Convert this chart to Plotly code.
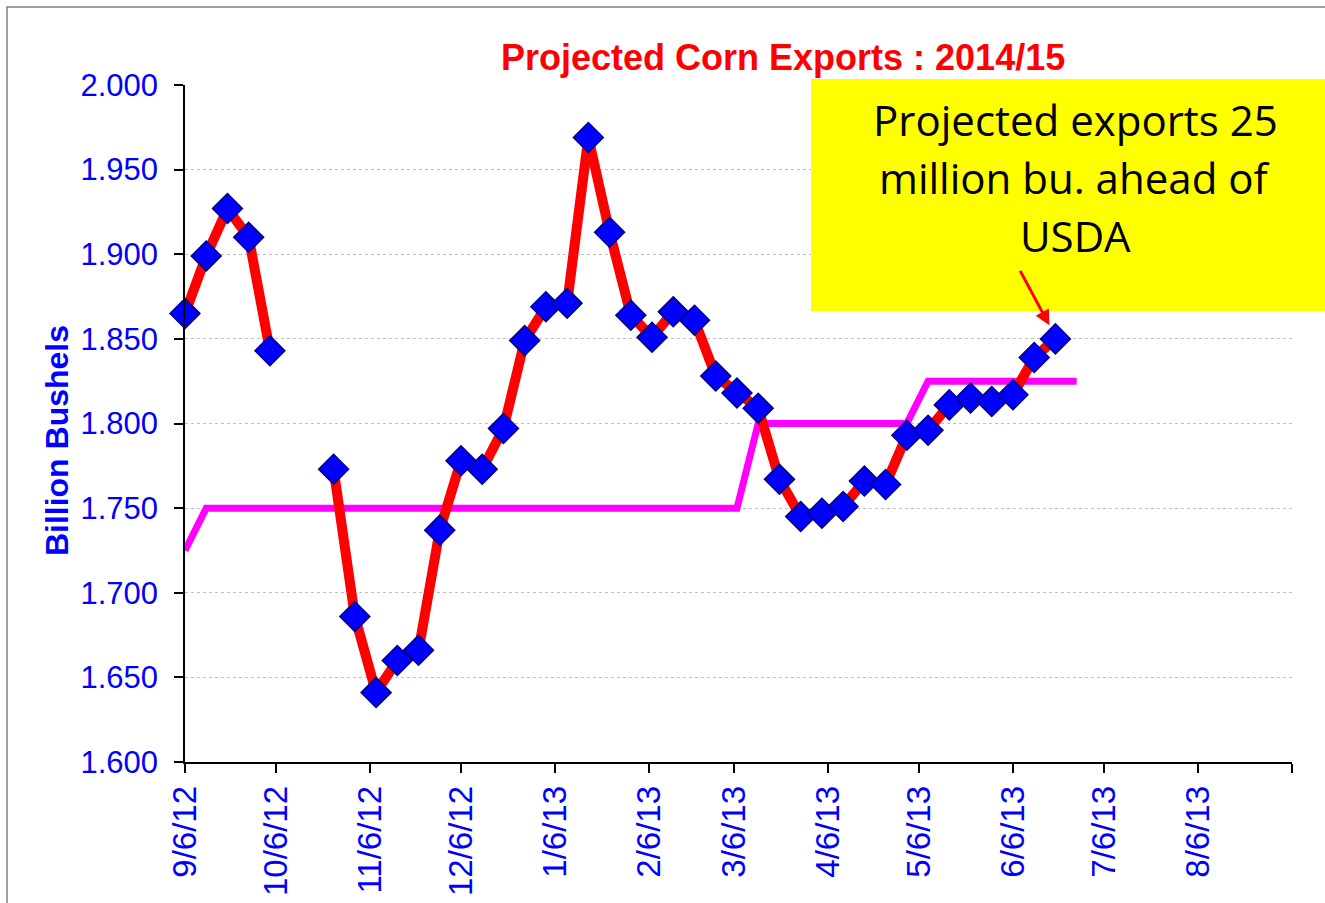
import plotly.graph_objects as go

# weekly projected exports (billion bushels); None = no estimate that week
week_dates = [
    "2012-09-06", "2012-09-13", "2012-09-20", "2012-09-27", "2012-10-04",
    "2012-10-11", "2012-10-18", "2012-10-25", "2012-11-01", "2012-11-08",
    "2012-11-15", "2012-11-22", "2012-11-29", "2012-12-06", "2012-12-13",
    "2012-12-20", "2012-12-27", "2013-01-03", "2013-01-10", "2013-01-17",
    "2013-01-24", "2013-01-31", "2013-02-07", "2013-02-14", "2013-02-21",
    "2013-02-28", "2013-03-07", "2013-03-14", "2013-03-21", "2013-03-28",
    "2013-04-04", "2013-04-11", "2013-04-18", "2013-04-25", "2013-05-02",
    "2013-05-09", "2013-05-16", "2013-05-23", "2013-05-30", "2013-06-06",
    "2013-06-13", "2013-06-20",
]
projected = [
    1.865, 1.899, 1.927, 1.910, 1.843,
    None, None, 1.773, 1.686, 1.641,
    1.660, 1.666, 1.737, 1.778, 1.773,
    1.797, 1.849, 1.869, 1.871, 1.969,
    1.913, 1.864, 1.851, 1.866, 1.861,
    1.828, 1.818, 1.809, 1.767, 1.745,
    1.747, 1.751, 1.766, 1.764, 1.793,
    1.796, 1.811, 1.815, 1.813, 1.817,
    1.839, 1.850,
]

# USDA estimate, given at the weeks where it changes
usda_dates = ["2012-09-06", "2012-09-13", "2013-03-07", "2013-03-14",
              "2013-05-02", "2013-05-09", "2013-06-27"]
usda = [1.725, 1.750, 1.750, 1.800, 1.800, 1.825, 1.825]

tick_dates = ["2012-09-06", "2012-10-06", "2012-11-06", "2012-12-06",
              "2013-01-06", "2013-02-06", "2013-03-06", "2013-04-06",
              "2013-05-06", "2013-06-06", "2013-07-06", "2013-08-06",
              "2013-09-06"]
tick_labels = ["9/6/12", "10/6/12", "11/6/12", "12/6/12", "1/6/13", "2/6/13",
               "3/6/13", "4/6/13", "5/6/13", "6/6/13", "7/6/13", "8/6/13", ""]

callout_lines = ["Projected exports 25", "million bu. ahead of", "USDA"]

fig = go.Figure()

fig.add_trace(go.Scatter(
    x=usda_dates, y=usda, mode="lines",
    line=dict(color="#FF00FF", width=7),
    hoverinfo="x+y", name="USDA",
))

fig.add_trace(go.Scatter(
    x=week_dates, y=projected, mode="lines+markers",
    connectgaps=False, cliponaxis=False,
    line=dict(color="#FF0000", width=10),
    marker=dict(symbol="diamond", size=23, color="#0000FF",
                line=dict(color="#000080", width=1.5)),
    name="Projected",
))

fig.update_layout(
    width=1325, height=903,
    margin=dict(l=185, r=33, t=85, b=141),
    paper_bgcolor="white", plot_bgcolor="white",
    showlegend=False,
    font=dict(family="Liberation Sans, Arial", size=31, color="#0000FF"),
    xaxis=dict(
        type="date",
        range=["2012-09-06", "2013-09-06"],
        tickvals=tick_dates, ticktext=tick_labels,
        tickangle=-90,
        ticks="outside", ticklen=9, tickwidth=1.5, tickcolor="black",
        showline=True, linecolor="black", linewidth=1.5,
        showgrid=False, zeroline=False, automargin=False,
        tickfont=dict(size=33, color="#0000FF"),
    ),
    yaxis=dict(
        range=[1.6, 2.0],
        tickvals=[1.6, 1.65, 1.7, 1.75, 1.8, 1.85, 1.9, 1.95, 2.0],
        tickformat=".3f",
        ticks="outside", ticklen=9, tickwidth=1.5, tickcolor="black",
        ticklabelstandoff=10,
        showline=True, linecolor="black", linewidth=1.5,
        showgrid=True, gridcolor="#BFBFBF", gridwidth=1, griddash="dot",
        zeroline=False, automargin=False,
        tickfont=dict(size=31, color="#0000FF"),
    ),
)

# chart title and axis title as free text
fig.add_annotation(
    text="<b>Projected Corn Exports : 2014/15</b>",
    xref="paper", yref="paper", x=0.54, y=1.0399,
    xanchor="center", yanchor="middle",
    showarrow=False, font=dict(size=36, color="#FF0000"),
)
fig.add_annotation(
    text="<b>Billion Bushels</b>",
    xref="paper", yref="paper", x=-0.115, y=0.475, textangle=-90,
    xanchor="center", yanchor="middle",
    showarrow=False, font=dict(size=32, color="#0000FF"),
)

# yellow callout
fig.add_shape(
    type="rect", xref="paper", yref="paper",
    x0=0.5655, x1=1.04, y0=0.6662, y1=1.0089,
    fillcolor="#FFFF00", line=dict(width=0), layer="above",
)
for i, line in enumerate(callout_lines):
    fig.add_annotation(
        text=line, xref="paper", yref="paper",
        x=0.804, y=0.9497 - i * 0.0857,
        xanchor="center", yanchor="middle",
        showarrow=False,
        font=dict(family="Open Sans", size=42, color="black"),
    )
fig.add_annotation(
    x="2013-06-18", y=1.858, ax=-30, ay=-56,
    showarrow=True, arrowhead=2, arrowsize=1, arrowwidth=3,
    arrowcolor="#FF0000", text="",
)

# grey outer frame
fig.add_shape(
    type="rect", xref="paper", yref="paper",
    x0=-0.1608, x1=1.034, y0=-0.2186, y1=1.1152,
    line=dict(color="#808080", width=1.5), fillcolor="rgba(0,0,0,0)",
)

fig.write_html("out.html", config={"displayModeBar": False},
               post_script="document.body.style.margin='0';")
